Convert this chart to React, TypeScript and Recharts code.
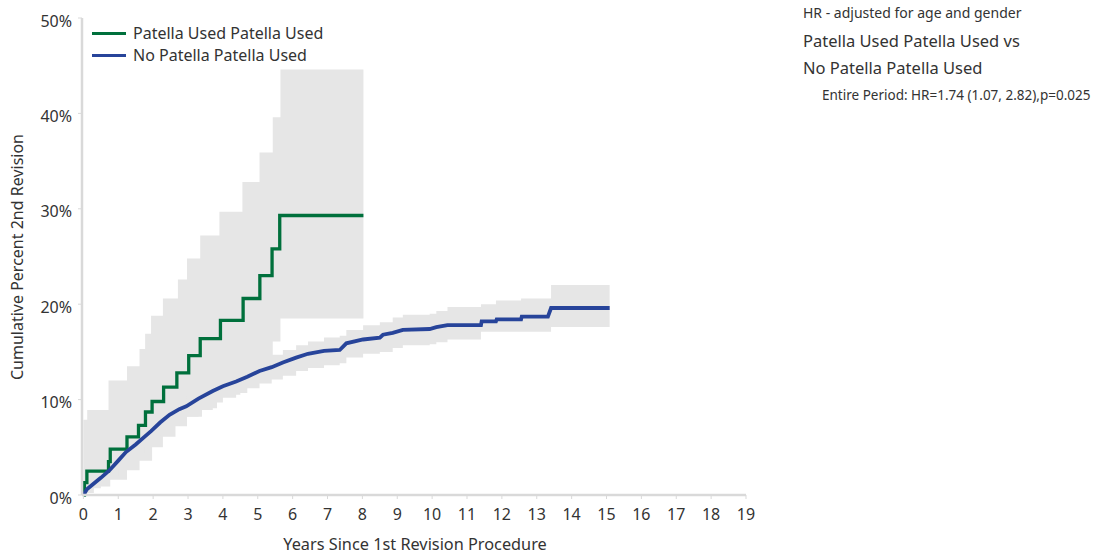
import React from 'react';
import { ComposedChart, Area, Line, XAxis, YAxis } from 'recharts';

// Patella Used Patella Used: cumulative percent (step curve)
const greenYears = [0, 0.03, 0.1, 0.72, 0.77, 1.25, 1.58, 1.78, 1.97, 2.3, 2.68, 3.02, 3.35, 3.93, 4.58, 5.06, 5.41, 5.63, 8.03];
const greenPct = [0, 1.3, 2.5, 3.5, 4.8, 6.1, 7.3, 8.7, 9.8, 11.3, 12.8, 14.6, 16.4, 18.3, 20.6, 23.0, 25.8, 29.3, 29.3];

// its 95% CI band
const greenBandYears = [0, 0.11, 0.72, 0.77, 1.25, 1.61, 1.77, 1.94, 1.97, 2.28, 2.64, 2.71, 2.97, 3.35, 3.4, 3.83, 3.9, 4.5, 4.56, 5.05, 5.43, 5.65, 8.03];
const greenLow = [0, 0.9, 0.9, 1.6, 2.6, 3.6, 3.6, 3.6, 5.0, 6.1, 7.2, 7.2, 8.2, 8.2, 9.1, 10.5, 10.5, 11.8, 11.8, 13.5, 16.1, 18.5, 18.5];
const greenHigh = [7.9, 8.9, 12.0, 12.0, 13.5, 15.3, 16.9, 18.8, 18.8, 20.6, 20.6, 22.6, 24.8, 27.2, 27.2, 27.2, 29.7, 29.7, 32.8, 35.9, 39.6, 44.6, 44.6];

// No Patella Patella Used
const blueYears = [0, 0.1, 0.3, 0.5, 0.75, 1.0, 1.22, 1.5, 1.75, 1.94, 2.2, 2.47, 2.75, 2.95, 3.3, 3.71, 4.0, 4.38, 4.7, 5.05, 5.4, 5.72, 6.1, 6.44, 6.9, 7.35, 7.54, 8.02, 8.5, 8.59, 8.87, 9.16, 9.93, 10.12, 10.44, 11.4, 11.42, 11.83, 11.85, 12.55, 12.57, 13.32, 13.41, 15.09];
const bluePct = [0, 0.6, 1.2, 1.8, 2.6, 3.6, 4.5, 5.3, 6.1, 6.7, 7.6, 8.4, 9.0, 9.3, 10.1, 10.9, 11.4, 11.9, 12.4, 13.0, 13.4, 13.9, 14.4, 14.8, 15.1, 15.2, 15.9, 16.3, 16.5, 16.8, 17.0, 17.3, 17.4, 17.6, 17.8, 17.8, 18.2, 18.2, 18.4, 18.4, 18.7, 18.7, 19.6, 19.6];

const blueBandYears = [0, 0.1, 0.3, 0.5, 0.75, 1.0, 1.22, 1.5, 1.75, 1.94, 2.2, 2.47, 2.75, 2.95, 3.3, 3.71, 4.0, 4.38, 4.7, 5.05, 5.4, 5.72, 6.1, 6.44, 6.9, 7.35, 7.54, 8.02, 8.5, 8.87, 9.16, 9.93, 10.12, 10.44, 11.4, 11.83, 12.55, 13.41, 15.09];
const blueLow = [0, 0.2, 0.7, 1.2, 1.9, 2.8, 3.6, 4.4, 5.1, 5.7, 6.5, 7.3, 7.8, 8.2, 8.9, 9.7, 10.2, 10.7, 11.2, 11.7, 12.1, 12.5, 13.0, 13.3, 13.6, 13.8, 14.4, 14.8, 15.0, 15.4, 15.7, 15.8, 16.0, 16.3, 17.1, 17.1, 17.1, 17.6, 17.6];
const blueHigh = [0.4, 1.0, 1.7, 2.4, 3.3, 4.4, 5.3, 6.2, 7.0, 7.7, 8.6, 9.4, 10.0, 10.4, 11.2, 12.0, 12.6, 13.1, 13.6, 14.2, 14.7, 15.2, 15.7, 16.1, 16.5, 16.7, 17.3, 17.8, 18.1, 18.6, 18.9, 19.0, 19.3, 19.7, 20.0, 20.4, 20.6, 22.0, 22.0];

const xTicks = [0, 1, 2, 3, 4, 5, 6, 7, 8, 9, 10, 11, 12, 13, 14, 15, 16, 17, 18, 19];
const yTicks = [0, 10, 20, 30, 40, 50];

const GREEN = '#00703C';
const BLUE = '#27449A';
const BAND = '#E6E6E6';
const AXIS = '#D9D9D9';
const TEXT = '#333333';
const FONT = '"Noto Sans", "Open Sans", sans-serif';

const series = [
  { name: 'Patella Used Patella Used', color: GREEN },
  { name: 'No Patella Patella Used', color: BLUE },
];

const greenLine = greenYears.map((t, i) => ({ t, v: greenPct[i] }));
const greenBand = greenBandYears.map((t, i) => ({ t, range: [greenLow[i], greenHigh[i]] }));
const blueLine = blueYears.map((t, i) => ({ t, v: bluePct[i] }));
const blueBand = blueBandYears.map((t, i) => ({ t, range: [blueLow[i], blueHigh[i]] }));

function YTick(props: any) {
  const { x, y, payload } = props;
  return (
    <text x={x} y={y + 3} dy="0.355em" textAnchor="end" fill={TEXT} fontSize={16} fontFamily={FONT}>
      {payload.value}%
    </text>
  );
}

export default function App() {
  return (
    <div style={{ position: 'absolute', left: 0, top: 0, width: 1096, height: 554, background: '#fff', fontFamily: FONT }}>
      <ComposedChart width={1096} height={554} margin={{ top: 18, right: 350, bottom: 29, left: 0 }}>
        <XAxis
          type="number"
          dataKey="t"
          domain={[-0.04, 19]}
          ticks={xTicks}
          allowDataOverflow
          height={30}
          tickSize={4}
          tickMargin={10}
          axisLine={{ stroke: AXIS, strokeWidth: 2.5 }}
          tickLine={{ stroke: AXIS }}
          tick={{ fontSize: 16, fill: TEXT, fontFamily: FONT }}
        />
        <YAxis
          type="number"
          domain={[0, 50]}
          ticks={yTicks}
          width={82}
          tickSize={4}
          tickMargin={6}
          axisLine={{ stroke: AXIS, strokeWidth: 2.5 }}
          tickLine={{ stroke: AXIS }}
          tick={<YTick />}
        />
        <Area data={greenBand} dataKey="range" type="stepAfter" fill={BAND} fillOpacity={1} stroke="none" isAnimationActive={false} />
        <Area data={blueBand} dataKey="range" type="stepAfter" fill={BAND} fillOpacity={1} stroke="none" isAnimationActive={false} />
        <Line data={greenLine} dataKey="v" type="stepAfter" stroke={GREEN} strokeWidth={3.3} dot={false} isAnimationActive={false} />
        <Line data={blueLine} dataKey="v" type="linear" stroke={BLUE} strokeWidth={3.8} dot={false} isAnimationActive={false} />
      </ComposedChart>

      {/* legend */}
      <div style={{ position: 'absolute', left: 92, top: 22, fontSize: 16, color: TEXT }}>
        {series.map((s) => (
          <div key={s.name} style={{ display: 'flex', alignItems: 'center', height: 22 }}>
            <div style={{ width: 34, height: 3, backgroundColor: s.color, marginRight: 7 }} />
            <span>{s.name}</span>
          </div>
        ))}
      </div>

      <div style={{ position: 'absolute', left: 415, top: 533, transform: 'translateX(-50%)', whiteSpace: 'nowrap', fontSize: 16.3, color: TEXT }}>
        Years Since 1st Revision Procedure
      </div>
      <div
        style={{
          position: 'absolute',
          left: 17,
          top: 257,
          transform: 'translate(-50%, -50%) rotate(-90deg)',
          whiteSpace: 'nowrap',
          fontSize: 16,
          color: TEXT,
        }}
      >
        Cumulative Percent 2nd Revision
      </div>

      <div style={{ position: 'absolute', left: 803, top: 3, fontSize: 14, color: TEXT, whiteSpace: 'nowrap' }}>
        HR - adjusted for age and gender
      </div>
      <div style={{ position: 'absolute', left: 803, top: 29, fontSize: 16.5, color: TEXT, whiteSpace: 'nowrap' }}>
        Patella Used Patella Used vs
      </div>
      <div style={{ position: 'absolute', left: 803, top: 56, fontSize: 16.5, color: TEXT, whiteSpace: 'nowrap' }}>
        No Patella Patella Used
      </div>
      <div style={{ position: 'absolute', left: 822, top: 86, fontSize: 13.5, color: TEXT, whiteSpace: 'nowrap' }}>
        Entire Period: HR=1.74 (1.07, 2.82),p=0.025
      </div>
    </div>
  );
}
